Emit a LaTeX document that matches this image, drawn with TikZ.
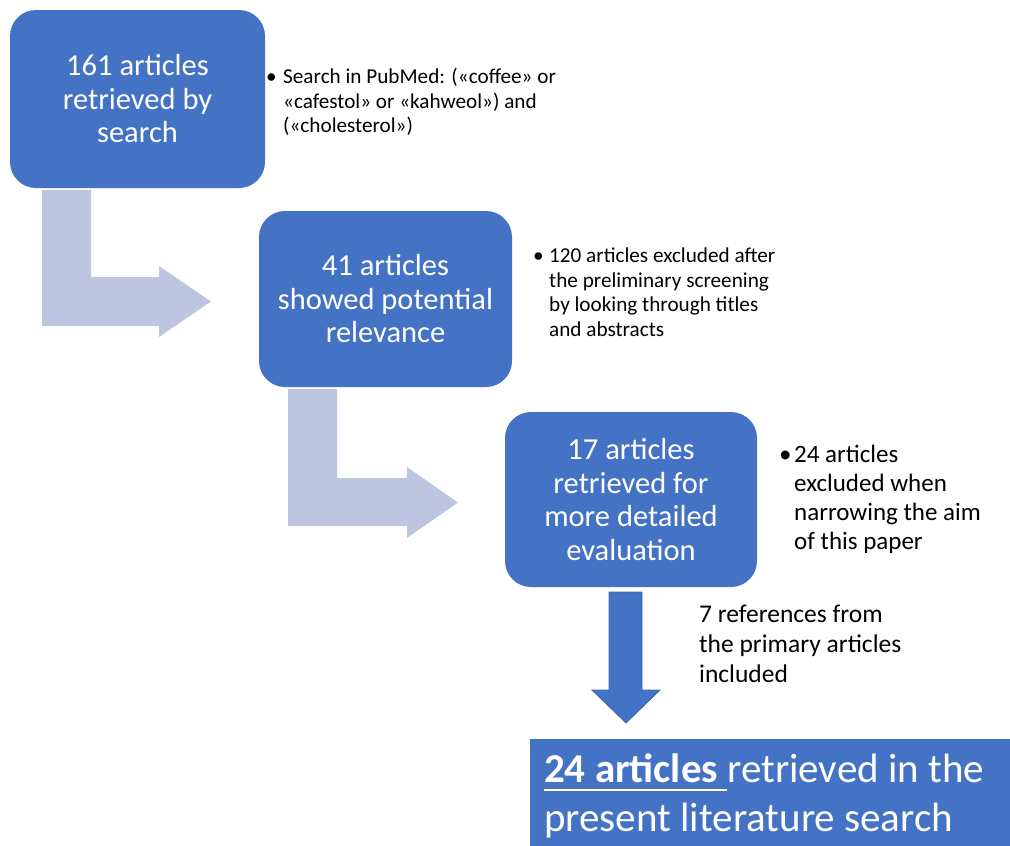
\documentclass[tikz,border=0pt]{standalone}
\usepackage{fontspec}
\setmainfont{Carlito}
\definecolor{boxblue}{HTML}{4472C4}
\definecolor{lightarrow}{HTML}{BDC6E1}
\definecolor{arrowedge}{HTML}{3A64B0}
\newcommand\ulbox[1]{\setbox0\hbox{#1}\rlap{\rule[-9pt]{\wd0}{2pt}}\box0}
\begin{document}
\begin{tikzpicture}[x=1pt,y=-1pt,
  box/.style={fill=boxblue, rounded corners=26pt, text=white, align=center,
    font=\fontsize{30.5}{33.5}\selectfont, inner sep=0pt},
  side/.style={anchor=north west, inner sep=0pt, text=black,
    font=\fontsize{21.2}{24.7}\selectfont},
  bigside/.style={anchor=north west, inner sep=0pt, text=black,
    font=\fontsize{25}{29}\selectfont},
  bent/.style={fill=lightarrow},
  downarrow/.style={fill=boxblue, draw=arrowedge, line width=0.8pt, line join=miter}]
\useasboundingbox (0,0) rectangle (1010,846);

% boxes
\node[box, minimum width=255pt, minimum height=178pt] (b1) at (137.5,99)
  {161 articles\\retrieved by\\search};
\node[box, minimum width=253pt, minimum height=176pt] (b2) at (385.5,299)
  {41 articles\\showed potential\\relevance};
\node[box, minimum width=252pt, minimum height=175pt] (b3) at (631,499.5)
  {17 articles\\retrieved for\\more detailed\\evaluation};
\node[fill=boxblue, minimum width=480pt, minimum height=107pt, inner sep=0pt] (b4) at (770,792.5) {};
\node[anchor=north west, inner sep=0pt, text=white, align=left,
  font=\fontsize{41}{49}\selectfont] (t4) at (544,747.7)
  {\strut\ulbox{\textbf{24 articles }}retrieved in the\\\strut present literature search};

% side notes
\node[side] (s1) at (266,66) {\begin{tabular}{@{}l@{}l@{}}\makebox[17pt][l]{•}&Search in PubMed: («coffee» or\\&«cafestol» or «kahweol») and\\&(«cholesterol»)\end{tabular}};
\node[side] (s2) at (533,245) {\begin{tabular}{@{}l@{}l@{}}\makebox[16pt][l]{•}&120 articles excluded after\\&the preliminary screening\\&by looking through titles\\&and abstracts\end{tabular}};
\node[bigside] (s3) at (779,441.7) {\begin{tabular}{@{}l@{}l@{}}\makebox[15pt][l]{•}&24 articles\\&excluded when\\&narrowing the aim\\&of this paper\end{tabular}};
\node[anchor=north west, inner sep=0pt, text=black, align=left,
  font=\fontsize{25.5}{30}\selectfont] (s4) at (699,601)
  {\strut 7 references from\\\strut the primary articles\\\strut included};

% bent arrows
\fill[bent] (42,190) -- (91,190) -- (91,277) -- (159,277) -- (159,266) -- (211,301.5)
  -- (159,337) -- (159,326) -- (42,326) -- cycle;
\fill[bent] (288,389) -- (337,389) -- (337,478) -- (407,478) -- (407,467) -- (458,502.5)
  -- (407,538) -- (407,526) -- (288,526) -- cycle;

% down arrow
\draw[downarrow] (609,592) -- (642,592) -- (642,690) -- (660,690) -- (626,723)
  -- (592,690) -- (609,690) -- cycle;
\end{tikzpicture}
\end{document}
